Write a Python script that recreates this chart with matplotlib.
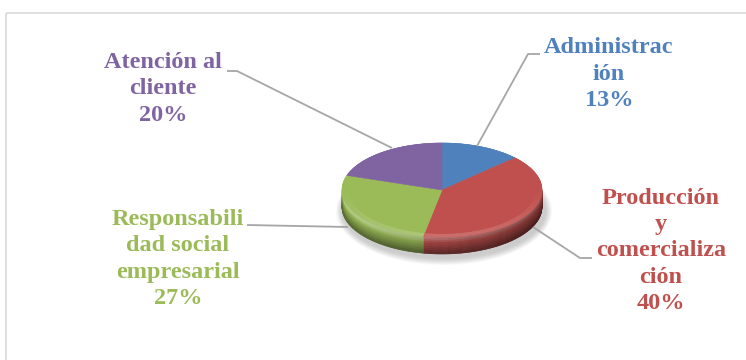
import numpy as np
import matplotlib
matplotlib.use("Agg")
import matplotlib.pyplot as plt
import matplotlib.colors as mcolors
from matplotlib.collections import PolyCollection
from matplotlib.patches import Polygon, Ellipse, Rectangle

plt.rcParams["font.family"] = "serif"
plt.rcParams["font.serif"] = ["Liberation Serif", "DejaVu Serif"]

# datos del grafico
area_lines = [["Administrac", "ión"],
              ["Producción", "y", "comercializa", "ción"],
              ["Responsabili", "dad social", "empresarial"],
              ["Atención al", "cliente"]]
percent = [13, 40, 27, 20]
colors = ["#4F81BD", "#C0504D", "#9BBB59", "#8064A2"]

# posicion de las etiquetas (centro del bloque) y lineas guia, en pixeles
label_pos = [(609, 74), (661, 251), (178, 259), (163, 89)]
leaders = [[(477, 146), (528, 54), (540, 54)],
           [(533, 227), (580, 258), (592, 258)],
           [(348, 227), (247, 225)],
           [(392, 148), (237, 71), (227, 71)]]

W, H = 746, 360
fig = plt.figure(figsize=(W / 100, H / 100), dpi=100)
ax = fig.add_axes([0, 0, 1, 1])
ax.set_xlim(0, W)
ax.set_ylim(H, 0)
ax.axis("off")

# marco del area del grafico
ax.add_patch(Rectangle((5.5, 12.5), 800, 400, fill=False, edgecolor="#D9D9D9", lw=1.2))

# geometria del pastel 3D
cx, cy = 442, 190
a, b = 100, 47
depth = 17


def ell(t, dy=0.0):
    return cx + a * np.sin(t), cy - b * np.cos(t) + dy


def shade(base, v, t):
    rgb = np.array(mcolors.to_rgb(base))
    h = (np.sin(t) + 1) / 2  # 0 izquierda, 1 derecha
    if v < 0.3:
        mix = 0.35 * (1 - v / 0.3) + 0.1 * (1 - h)
        rgb = rgb + (1 - rgb) * mix
    else:
        rgb = rgb * (1 - 0.45 * (v - 0.3) / 0.7)
    rgb = rgb * (1 - 0.35 * h)
    return np.clip(rgb, 0, 1)


# sombra suave debajo del pastel
for k in range(14):
    ax.add_patch(Ellipse((cx + 2, cy + depth + 4), 2 * a + 16 - k, 2 * b + 14 - k,
                         facecolor="#7f7f7f", edgecolor="none", alpha=0.03))

fracs = np.array(percent) / sum(percent)
bounds = np.concatenate([[0], np.cumsum(fracs)]) * 2 * np.pi

# paredes laterales (solo la mitad frontal es visible)
quads, qcols = [], []
nb = 10
for i in range(len(percent)):
    lo = max(bounds[i], np.pi / 2)
    hi = min(bounds[i + 1], 3 * np.pi / 2)
    if lo >= hi:
        continue
    ts = np.linspace(lo, hi, max(int((hi - lo) * 90), 2))
    for t0, t1 in zip(ts[:-1], ts[1:]):
        x0, y0 = ell(t0)
        x1, y1 = ell(t1)
        for k in range(nb):
            v0, v1 = k / nb * depth, (k + 1) / nb * depth
            quads.append([(x0, y0 + v0), (x1, y1 + v0), (x1, y1 + v1), (x0, y0 + v1)])
            qcols.append(shade(colors[i], (k + 0.5) / nb, (t0 + t1) / 2))
ax.add_collection(PolyCollection(quads, facecolors=qcols, edgecolors=qcols, linewidths=0.4))

# cara superior
for i in range(len(percent)):
    ts = np.linspace(bounds[i], bounds[i + 1], 120)
    xs, ys = ell(ts)
    pts = [(cx, cy)] + list(zip(xs, ys))
    ax.add_patch(Polygon(pts, closed=True, facecolor=colors[i], edgecolor=colors[i], lw=0.4))

# borde iluminado de la cara superior
ring, rcols = [], []
ts = np.linspace(0, 2 * np.pi, 361)
for t0, t1 in zip(ts[:-1], ts[1:]):
    i = np.searchsorted(bounds, (t0 + t1) / 2) - 1
    xo0, yo0 = ell(t0)
    xo1, yo1 = ell(t1)
    s = 0.94
    xi0, yi0 = cx + s * (xo0 - cx), cy + s * (yo0 - cy)
    xi1, yi1 = cx + s * (xo1 - cx), cy + s * (yo1 - cy)
    ring.append([(xi0, yi0), (xi1, yi1), (xo1, yo1), (xo0, yo0)])
    rgb = np.array(mcolors.to_rgb(colors[i]))
    front = max(0, -np.cos((t0 + t1) / 2))
    rcols.append(np.clip(rgb + (1 - rgb) * 0.18 * front, 0, 1))
ax.add_collection(PolyCollection(ring, facecolors=rcols, edgecolors=rcols, linewidths=0.3))

# lineas guia
for pts in leaders:
    xs, ys = zip(*pts)
    ax.plot(xs, ys, color="#A6A6A6", lw=1.3, solid_capstyle="butt")

# etiquetas
for lines, p, c, (x, y) in zip(area_lines, percent, colors, label_pos):
    txt = "\n".join(lines + [f"{p}%"])
    ax.text(x, y, txt, ha="center", va="center", multialignment="center",
            color=c, fontsize=17.5, fontweight="bold", linespacing=1.32)

fig.savefig("out.png", dpi=100)
